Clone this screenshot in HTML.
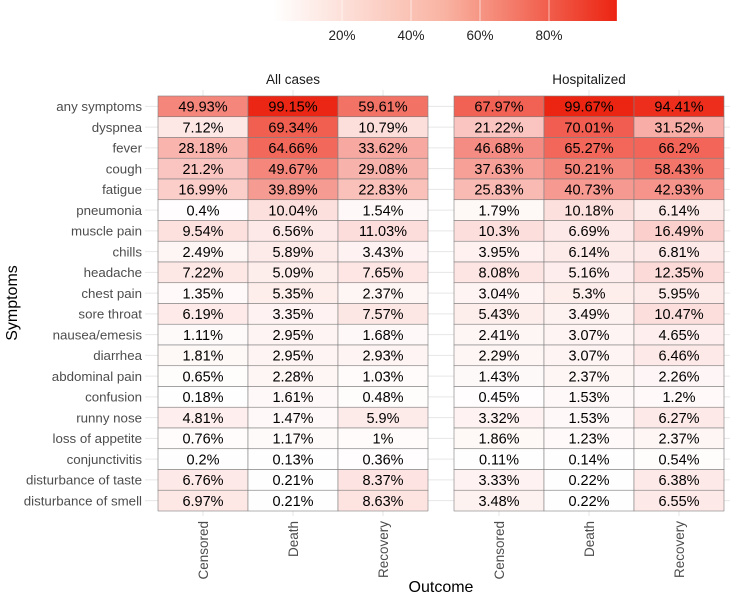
<!DOCTYPE html>
<html><head><meta charset="utf-8"><style>
body{margin:0;background:#fff;font-family:"Liberation Sans",sans-serif}
svg text{font-family:"Liberation Sans",sans-serif}
</style></head><body>
<svg id="c" width="734" height="597">
<defs><linearGradient id="lg" x1="0" x2="1" y1="0" y2="0">
<stop offset="0" stop-color="#ffffff"/><stop offset="0.5" stop-color="#f9b3a2"/><stop offset="1" stop-color="#ec2412"/></linearGradient></defs>
</svg>
<script>
const symptoms=["any symptoms","dyspnea","fever","cough","fatigue","pneumonia","muscle pain","chills","headache","chest pain","sore throat","nausea/emesis","diarrhea","abdominal pain","confusion","runny nose","loss of appetite","conjunctivitis","disturbance of taste","disturbance of smell"];
const outcomes=["Censored","Death","Recovery"];
const facets=["All cases","Hospitalized"];
const allCensored=[49.93,7.12,28.18,21.2,16.99,0.4,9.54,2.49,7.22,1.35,6.19,1.11,1.81,0.65,0.18,4.81,0.76,0.2,6.76,6.97];
const allDeath=[99.15,69.34,64.66,49.67,39.89,10.04,6.56,5.89,5.09,5.35,3.35,2.95,2.95,2.28,1.61,1.47,1.17,0.13,0.21,0.21];
const allRecovery=[59.61,10.79,33.62,29.08,22.83,1.54,11.03,3.43,7.65,2.37,7.57,1.68,2.93,1.03,0.48,5.9,1,0.36,8.37,8.63];
const hospCensored=[67.97,21.22,46.68,37.63,25.83,1.79,10.3,3.95,8.08,3.04,5.43,2.41,2.29,1.43,0.45,3.32,1.86,0.11,3.33,3.48];
const hospDeath=[99.67,70.01,65.27,50.21,40.73,10.18,6.69,6.14,5.16,5.3,3.49,3.07,3.07,2.37,1.53,1.53,1.23,0.14,0.22,0.22];
const hospRecovery=[94.41,31.52,66.2,58.43,42.93,6.14,16.49,6.81,12.35,5.95,10.47,4.65,6.46,2.26,1.2,6.27,2.37,0.54,6.38,6.55];
const legendTicks=[20,40,60,80];
const data=[[allCensored,allDeath,allRecovery],[hospCensored,hospDeath,hospRecovery]];
const svg=document.getElementById('c');const NS='http://www.w3.org/2000/svg';
function mk(t,a,p){const e=document.createElementNS(NS,t);for(const k in a)e.setAttribute(k,a[k]);(p||svg).appendChild(e);return e;}
const panelX=[158,454],cellW=90,topY=96,rowH=20.75;
const y=i=>topY+i*rowH;
const x=(f,j)=>panelX[f]+j*cellW;
const legX=v=>273+v*3.45;
function col(v){const t=Math.pow(v/100,0.85);const r=Math.round(255-t*(255-236)),g=Math.round(255-t*(255-36)),b=Math.round(255-t*(255-18));return `rgb(${r},${g},${b})`;}
const lr=mk('rect',{x:legX(0),y:0,width:legX(99.67)-legX(0),height:21,fill:'url(#lg)'});


legendTicks.forEach(v=>{mk('line',{x1:legX(v),x2:legX(v),y1:0,y2:21,stroke:'#fff','stroke-width':0.6});
const t=mk('text',{x:legX(v),y:40,'text-anchor':'middle','font-size':13.5,fill:'#222'});t.textContent=v+'%';

});
symptoms.forEach((s,i)=>{const cy=y(i)+rowH/2;
mk('line',{x1:145,x2:730,y1:cy,y2:cy,stroke:'#e6e6e6','stroke-width':1});
const t=mk('text',{x:142,y:cy+4.7,'text-anchor':'end','font-size':13.3,fill:'#4d4d4d'});t.textContent=s;

});
facets.forEach((fn,f)=>{
const ft=mk('text',{x:panelX[f]+135,y:84,'text-anchor':'middle','font-size':13.5,fill:'#1a1a1a'});ft.textContent=fn;


outcomes.forEach((o,j)=>{const cx=x(f,j)+cellW/2;
mk('line',{x1:cx,x2:cx,y1:90,y2:516,stroke:'#e6e6e6','stroke-width':1});
data[f][j].forEach((v,i)=>{
const r=mk('rect',{x:x(f,j),y:y(i),width:cellW,height:rowH,fill:col(v),stroke:'#7f7f7f','stroke-width':0.6});


const t=mk('text',{x:cx,y:y(i)+rowH/2+5.2,'text-anchor':'middle','font-size':14.5,fill:'#000'});t.textContent=v+'%';

});
const xt=mk('text',{x:0,y:0,'text-anchor':'end','font-size':13.5,fill:'#4d4d4d',transform:`translate(${cx+5},521) rotate(-90)`});xt.textContent=o;


});});
const yt=mk('text',{x:0,y:0,'text-anchor':'middle','font-size':16,fill:'#000',transform:'translate(17,303) rotate(-90)'});yt.textContent='Symptoms';


const xa=mk('text',{x:441,y:592,'text-anchor':'middle','font-size':16,fill:'#000'});xa.textContent='Outcome';


</script>
</body></html>
